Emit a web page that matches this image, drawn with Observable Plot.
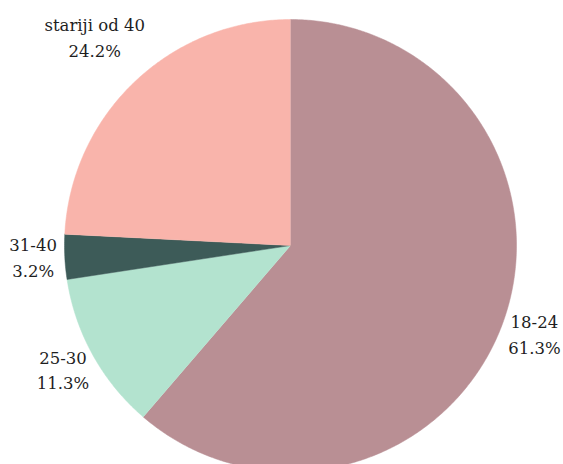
<!DOCTYPE html>
<html><head><meta charset="utf-8">
<script src="https://cdn.jsdelivr.net/npm/d3@7"></script>
<script src="https://cdn.jsdelivr.net/npm/@observablehq/plot@0.6"></script>
<style>body{margin:0;background:#fff}</style>
</head><body><div id="chart"></div>
<script>
const categories = ["18-24", "25-30", "31-40", "stariji od 40"];
const shares = [61.3, 11.3, 3.2, 24.2];
const shareLabels = ["61.3%", "11.3%", "3.2%", "24.2%"];
const colors = ["#b98f94", "#b3e3cf", "#3d5b58", "#f9b4ab"];

const W = 563, H = 464, R = 226, CX = 290, CY = 245;
const FONT = "DejaVu Serif";
const FS = 16.5, LH = 1.55;

const slices = d3.pie().sort(null).value(d => d.value)(
  categories.map((c, i) => ({category: c, value: shares[i], label: shareLabels[i]}))
);

// slice outlines on the unit circle (angle clockwise from 12 o'clock)
const pts = [];
for (const s of slices) {
  const n = Math.max(2, Math.ceil((s.endAngle - s.startAngle) / (Math.PI / 360)));
  pts.push({category: s.data.category, x: 0, y: 0});
  for (let k = 0; k <= n; k++) {
    const a = s.startAngle + (s.endAngle - s.startAngle) * k / n;
    pts.push({category: s.data.category, x: Math.sin(a), y: Math.cos(a)});
  }
}

// label placement outside the pie
const ctx = document.createElement("canvas").getContext("2d");
ctx.font = `${FS}px '${FONT}'`;
const labels = slices.map(s => {
  const a = (s.startAngle + s.endAngle) / 2;
  const w = Math.max(ctx.measureText(s.data.category).width, ctx.measureText(s.data.label).width);
  const h = FS * LH * 2;
  const r = 1.035;
  const c = Math.cos(a);
  return {
    category: s.data.category,
    text: s.data.category + "\n" + s.data.label,
    x: r * Math.sin(a) + Math.sin(a) * (w / 2) / R,
    y: r * c + (c > 0 ? c * h : c * h / 2) / R + 3 / R
  };
});

const chart = Plot.plot({
  width: W, height: H, margin: 0,
  x: {domain: [-CX / R, (W - CX) / R], axis: null},
  y: {domain: [(CY - H) / R, CY / R], axis: null},
  color: {domain: categories, range: colors},
  style: {background: "#fff"},
  marks: [
    Plot.line(pts, {x: "x", y: "y", z: "category", fill: "category", stroke: "category", strokeWidth: 0.5}),
    Plot.text(labels, {x: "x", y: "y", text: "text", fontSize: FS, fontFamily: FONT, lineHeight: LH, textAnchor: "middle", lineAnchor: "middle", fill: "#1e1e1e"})
  ]
});
document.getElementById("chart").append(chart);
</script>
</body></html>
